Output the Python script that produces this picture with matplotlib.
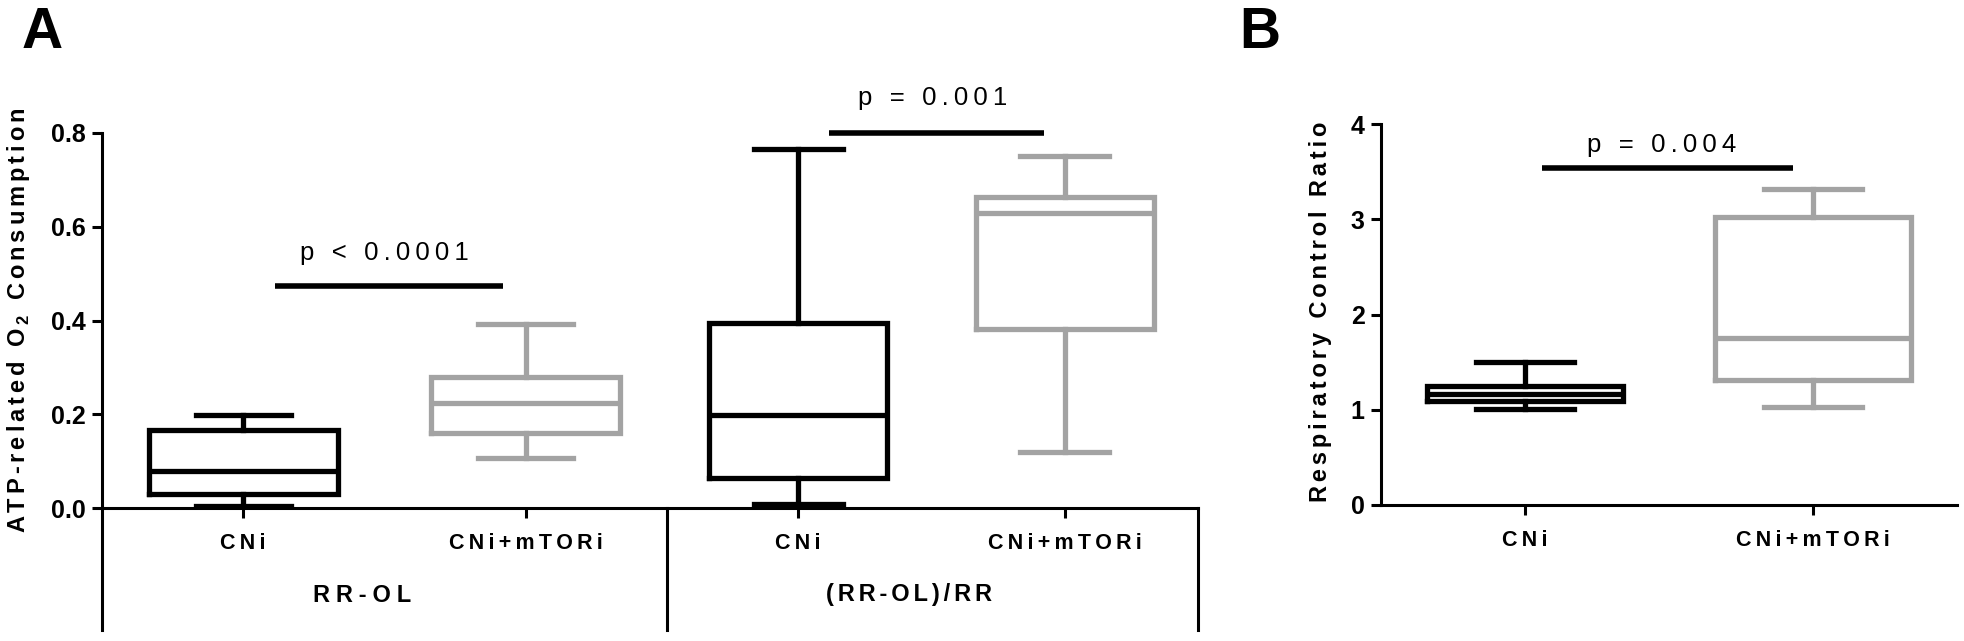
import matplotlib
matplotlib.use('Agg')
import matplotlib.pyplot as plt
import matplotlib.transforms as mtransforms

plt.rcParams['font.family'] = ['Liberation Sans', 'DejaVu Sans']
plt.rcParams['mathtext.fontset'] = 'custom'
plt.rcParams['mathtext.rm'] = 'Liberation Sans'
plt.rcParams['mathtext.bf'] = 'Liberation Sans:bold'

# --- data ---
treatments = ['CNi', 'CNi+mTORi']
groups_a = ['RR-OL', '(RR-OL)/RR']
# five-number summaries: whisker low, q1, median, q3, whisker high
rrol_cni = [0.005, 0.029, 0.078, 0.166, 0.199]
rrol_mtori = [0.107, 0.159, 0.223, 0.280, 0.392]
ratio_cni = [0.008, 0.063, 0.199, 0.394, 0.765]
ratio_mtori = [0.120, 0.382, 0.630, 0.664, 0.751]
p_text_a = ['p < 0.0001', 'p = 0.001']
sig_y_a = [0.473, 0.80]
yticks_a = [0.0, 0.2, 0.4, 0.6, 0.8]

rcr_cni = [1.01, 1.09, 1.17, 1.25, 1.50]
rcr_mtori = [1.03, 1.31, 1.75, 3.02, 3.32]
p_text_b = 'p = 0.004'
sig_y_b = 3.54
yticks_b = [0, 1, 2, 3, 4]

BLACK = '#000000'
GRAY = '#a3a3a3'
LW = 3.8

SIX = '\u2006'     # letter spacing for axis titles
FOUR = '\u2005'    # letter spacing for group labels
THIN = '\u2009'    # letter spacing for p values and category labels


def spaced(s, sep):
    return sep.join(s)


def stats(v):
    return dict(whislo=v[0], q1=v[1], med=v[2], q3=v[3], whishi=v[4], fliers=[])


def draw_box(ax, v, pos, width, color):
    props = dict(color=color, linewidth=LW, solid_joinstyle='miter')
    art = ax.bxp([stats(v)], positions=[pos], widths=width, capwidths=width / 2,
                 showfliers=False, manage_ticks=False,
                 boxprops=props, whiskerprops=props, capprops=props,
                 medianprops=dict(color=color, linewidth=LW))
    for key in art:
        for a in art[key]:
            a.set_clip_on(False)


def style_axis(ax):
    for side in ['top', 'right']:
        ax.spines[side].set_visible(False)
    for side in ['left', 'bottom']:
        ax.spines[side].set_linewidth(2.2)
    ax.tick_params(axis='both', length=7.2, width=2.2)
    ax.tick_params(axis='y', pad=4.5, labelsize=18)
    ax.tick_params(axis='x', pad=11, labelsize=15.5)
    for lab in ax.get_yticklabels() + ax.get_xticklabels():
        lab.set_fontweight('bold')


def sig_bar(ax, x0, x1, y, text, xtext, ytext):
    ax.plot([x0, x1], [y, y], color='black', linewidth=4, solid_capstyle='butt', clip_on=False)
    ax.text(xtext, ytext, spaced(text, THIN), ha='center', va='baseline',
            fontsize=18.5, clip_on=False)


fig = plt.figure(figsize=(19.65, 6.41), dpi=100)

# --- panel A ---
ax_a = fig.add_axes([102 / 1965, 133 / 641, 1096 / 1965, 375 / 641])
xpos_a = [0.5, 1.5, 2.464, 3.409]
widths_a = [0.67, 0.67, 0.63, 0.63]
draw_box(ax_a, rrol_cni, xpos_a[0], widths_a[0], BLACK)
draw_box(ax_a, rrol_mtori, xpos_a[1], widths_a[1], GRAY)
draw_box(ax_a, ratio_cni, xpos_a[2], widths_a[2], BLACK)
draw_box(ax_a, ratio_mtori, xpos_a[3], widths_a[3], GRAY)
ax_a.set_xlim(0, 3.88)
ax_a.set_ylim(0, 0.8)
ax_a.set_yticks(yticks_a)
ax_a.set_yticklabels([f'{t:.1f}' for t in yticks_a])
ax_a.set_xticks(xpos_a)
ax_a.set_xticklabels([spaced(t, THIN) for t in treatments * 2])
style_axis(ax_a)

sig_bar(ax_a, 0.613, 1.42, sig_y_a[0], p_text_a[0], 1.0, 0.530)
sig_bar(ax_a, 2.573, 3.335, sig_y_a[1], p_text_a[1], 2.94, 0.859)

trans_a = mtransforms.blended_transform_factory(ax_a.transData, ax_a.transAxes)
for x in [0, 2.0, 3.88]:
    ax_a.plot([x, x], [0, -0.325], color='black', linewidth=2.2, transform=trans_a, clip_on=False)
for x, g, sep in zip([0.92, 2.857], groups_a, [FOUR, SIX]):
    ax_a.text(x, -0.232, spaced(g, sep), transform=trans_a, ha='center', va='center',
              fontsize=17, fontweight='bold')

ylab_a = (spaced('ATP-related O', SIX) + SIX + r'$_\mathbf{2}$' + SIX + ' ' + SIX
          + spaced('Consumption', SIX))
fig.text(19 / 1965, 1 - 320 / 641, ylab_a, rotation=90, ha='center', va='center',
         fontsize=17, fontweight='bold')

# --- panel B ---
ax_b = fig.add_axes([1381 / 1965, 136 / 641, 576 / 1965, 381 / 641])
xpos_b = [0.5, 1.5]
draw_box(ax_b, rcr_cni, xpos_b[0], 0.68, BLACK)
draw_box(ax_b, rcr_mtori, xpos_b[1], 0.68, GRAY)
ax_b.set_xlim(0, 2)
ax_b.set_ylim(0, 4)
ax_b.set_yticks(yticks_b)
ax_b.set_xticks(xpos_b)
ax_b.set_xticklabels([spaced(t, THIN) for t in treatments])
style_axis(ax_b)
sig_bar(ax_b, 0.56, 1.43, sig_y_b, p_text_b, 0.976, 3.71)

fig.text(1321 / 1965, 1 - 312 / 641, spaced('Respiratory Control Ratio', SIX), rotation=90,
         ha='center', va='center', fontsize=17, fontweight='bold')

# panel letters
fig.text(42 / 1965, 1 - 48 / 641, 'A', fontsize=41, fontweight='bold', ha='center', va='baseline')
fig.text(1260 / 1965, 1 - 48 / 641, 'B', fontsize=41, fontweight='bold', ha='center', va='baseline')

fig.savefig('out.png', dpi=100, facecolor='white')
